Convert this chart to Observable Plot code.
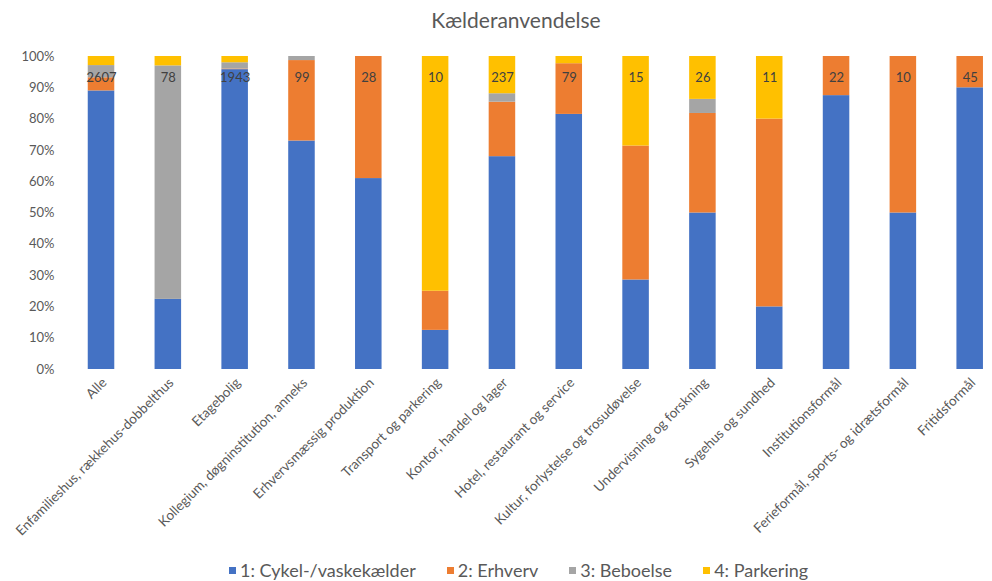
<!DOCTYPE html>
<html>
<head>
<meta charset="utf-8">
<script src="https://cdn.jsdelivr.net/npm/d3@7"></script>
<script src="https://cdn.jsdelivr.net/npm/@observablehq/plot@0.6"></script>
<style>
  body { margin: 0; background: #fff; font-family: Lato, "Noto Sans", sans-serif; }
  #wrap { width: 992px; height: 581px; position: relative; overflow: hidden; }
  #title { position: absolute; top: 7px; left: 516px; transform: translateX(-50%); font-size: 21px; color: #595959; white-space: nowrap; }
  #chart { position: absolute; top: 40px; left: 0; }
  #legend { position: absolute; top: 559px; left: 229px; display: flex; align-items: center; font-size: 18px; color: #595959; white-space: nowrap; }
  .item { display: flex; align-items: center; margin-right: 31px; }
  .sw { width: 7px; height: 7px; margin-right: 4px; display: inline-block; }
</style>
</head>
<body>
<div id="wrap">
  <div id="title">Kælderanvendelse</div>
  <div id="chart"></div>
  <div id="legend"></div>
</div>
<script>
const categories = ["Alle", "Enfamilieshus, rækkehus-dobbelthus", "Etagebolig", "Kollegium, døgninstitution, anneks", "Erhvervsmæssig produktion", "Transport og parkering", "Kontor, handel og lager", "Hotel, restaurant og service", "Kultur, forlystelse og trosudøvelse", "Undervisning og forskning", "Sygehus og sundhed", "Institutionsformål", "Ferieformål, sports- og idrætsformål", "Fritidsformål"];
const counts = [2607, 78, 1943, 99, 28, 10, 237, 79, 15, 26, 11, 22, 10, 45];
const seriesNames = ["1: Cykel-/vaskekælder", "2: Erhverv", "3: Beboelse", "4: Parkering"];
const seriesColors = ["#4472C4", "#ED7D31", "#A5A5A5", "#FFC000"];
const cykel     = [89.0, 22.4, 95.8, 73.0, 61.0, 12.5, 68.0, 81.5, 28.6, 50.0, 20.0, 87.5, 50.0, 90.0];
const erhverv   = [4.2, 0.0, 0.2, 25.7, 39.0, 12.5, 17.4, 16.2, 42.8, 31.8, 60.0, 12.5, 50.0, 10.0];
const beboelse  = [3.9, 74.6, 2.0, 1.3, 0.0, 0.0, 2.7, 0.0, 0.0, 4.5, 0.0, 0.0, 0.0, 0.0];
const parkering = [2.9, 3.0, 2.0, 0.0, 0.0, 75.0, 11.9, 2.3, 28.6, 13.7, 20.0, 0.0, 0.0, 0.0];
const yTicks = [0, 10, 20, 30, 40, 50, 60, 70, 80, 90, 100];

const seriesValues = [cykel, erhverv, beboelse, parkering];
const rows = [];
seriesNames.forEach((s, si) => {
  categories.forEach((c, ci) => rows.push({cat: c, series: s, value: seriesValues[si][ci]}));
});
const labels = categories.map((c, i) => ({cat: c, n: counts[i]}));

const plot = Plot.plot({
  width: 992,
  height: 505,
  marginTop: 16,
  marginBottom: 176,
  marginLeft: 67,
  marginRight: 2,
  style: {fontFamily: "Lato, 'Noto Sans', sans-serif", fontSize: "13px", color: "#595959", background: "transparent"},
  x: {domain: categories, range: [67.6, 1003.1], round: false, paddingInner: 0.603, paddingOuter: 0.3015, label: null},
  y: {domain: [0, 100], label: null},
  color: {domain: seriesNames, range: seriesColors},
  marks: [
    Plot.gridY(yTicks, {stroke: "#D9D9D9", strokeOpacity: 1, x1: 67, x2: 990}),
    Plot.barY(rows, {x: "cat", y: "value", fill: "series", order: seriesNames}),
    Plot.text(labels, {x: "cat", text: d => String(d.n), frameAnchor: "top", dy: 16, fill: "#404040", fontSize: 13}),
    Plot.axisY(yTicks, {tickSize: 0, tickPadding: 13, tickFormat: d => d + "%", fontSize: 13}),
    Plot.axisX({tickSize: 0, tickPadding: 11, tickRotate: -45, fontSize: 13.5, dx: 3})
  ]
});
document.getElementById("chart").appendChild(plot);

const legend = document.getElementById("legend");
seriesNames.forEach((s, i) => {
  const it = document.createElement("div");
  it.className = "item";
  const sw = document.createElement("span");
  sw.className = "sw";
  sw.style.background = seriesColors[i];
  it.appendChild(sw);
  it.appendChild(document.createTextNode(s));
  legend.appendChild(it);
});
</script>
</body>
</html>
